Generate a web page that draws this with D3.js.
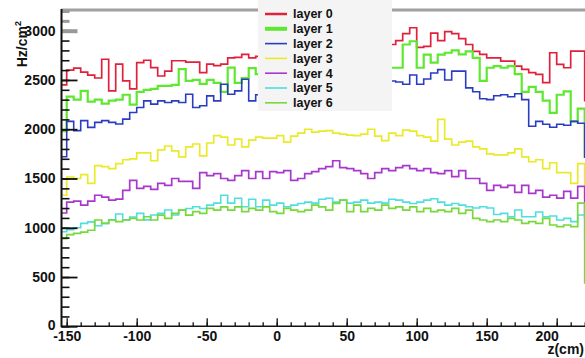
<!DOCTYPE html>
<html>
<head>
<meta charset="utf-8">
<script src="https://cdn.jsdelivr.net/npm/d3@7"></script>
<style>
  html, body { margin: 0; padding: 0; background: #fff; }
  svg { display: block; font-family: "Liberation Sans", Arial, Helvetica, sans-serif; font-weight: bold; }
</style>
</head>
<body>
<svg id="chart" width="585" height="358"></svg>
<script>
// Histogram binning along z (cm): 5 cm bins starting at -155 cm
const binLow = -155;
const binWidth = 5;

// Rate per bin (Hz/cm^2) for each detector layer
const layer0 = [2450,
  2600, 2620, 2580, 2550, 2520, 2710, 2390, 2660, 2490, 2410, 2675, 2700, 2625, 2540, 2590, 2695, 2695, 2680, 2680, 2575,
  2660, 2645, 2660, 2725, 2730, 2760, 2725, 2740, 2710, 2760, 2780, 2750, 2800, 2770, 2820, 2790, 2830, 2800, 2850, 2820,
  2860, 2830, 2880, 2850, 2870, 2900, 2860, 2900, 2970, 3030, 2830, 2840, 2975, 2900, 2990, 2970, 2920, 2860, 2790, 2760,
  2725, 2725, 2692, 2692, 2640, 2608, 2574, 2557, 2473, 2776, 2658, 2624, 2793, 2793,
  2290];
const layer1 = [1980,
  2330, 2300, 2390, 2280, 2300, 2260, 2290, 2300, 2350, 2250, 2380, 2400, 2410, 2440, 2440, 2450, 2610, 2490, 2500, 2460,
  2500, 2470, 2380, 2625, 2470, 2520, 2620, 2560, 2540, 2580, 2600, 2570, 2610, 2590, 2630, 2600, 2640, 2620, 2650, 2630,
  2660, 2640, 2680, 2650, 2670, 2640, 2624, 2624, 2860, 2893, 2624, 2758, 2675, 2758, 2776, 2800, 2760, 2790, 2725, 2490,
  2624, 2640, 2624, 2640, 2560, 2380, 2430, 2380, 2290, 2165, 2350, 2385, 2080, 2210,
  1720];
const layer2 = [1720,
  2080, 1986, 2087, 2019, 2070, 2087, 2070, 2053, 2103, 2170, 2221, 2288, 2255, 2288, 2271, 2288, 2271, 2355, 2221, 2238,
  2338, 2288, 2456, 2355, 2389, 2507, 2288, 2350, 2380, 2400, 2420, 2390, 2440, 2410, 2450, 2430, 2460, 2440, 2470, 2450,
  2480, 2460, 2490, 2470, 2480, 2470, 2490, 2480, 2456, 2550, 2456, 2510, 2570, 2605, 2500, 2590, 2590, 2420, 2380, 2310,
  2300, 2340, 2350, 2330, 2360, 2300, 2030, 2080, 2050, 2020, 2050, 2040, 2080, 2060,
  1715];
const layer3 = [1330,
  1515, 1500, 1540, 1450, 1630, 1620, 1600, 1650, 1690, 1700, 1760, 1760, 1680, 1790, 1830, 1780, 1720, 1820, 1850, 1730,
  1860, 1935, 1920, 1840, 1900, 1820, 1890, 1920, 1910, 1910, 1935, 1870, 1930, 1960, 2000, 1970, 1980, 1985, 1960, 1950,
  1940, 1935, 1950, 2000, 1930, 1885, 1960, 1935, 1990, 1980, 1935, 1920, 1880, 2100, 1900, 1840, 1870, 1880, 1820, 1800,
  1750, 1740, 1740, 1760, 1800, 1720, 1670, 1690, 1600, 1660, 1560, 1560, 1450, 1650,
  1300];
const layer4 = [1150,
  1260, 1270, 1230, 1270, 1330, 1310, 1280, 1290, 1380, 1480, 1400, 1420, 1390, 1450, 1430, 1500, 1470, 1470, 1400, 1560,
  1530, 1550, 1500, 1480, 1530, 1580, 1500, 1570, 1500, 1570, 1560, 1580, 1480, 1500, 1550, 1570, 1600, 1620, 1680, 1610,
  1600, 1580, 1550, 1500, 1560, 1600, 1580, 1610, 1630, 1600, 1580, 1600, 1560, 1550, 1580, 1520, 1580, 1500, 1500, 1450,
  1380, 1430, 1410, 1430, 1360, 1430, 1350, 1380, 1310, 1330, 1300, 1370, 1300, 1420,
  1100];
const layer5 = [960,
  980, 1000, 1045, 1060, 1020, 1045, 1080, 1140, 1080, 1110, 1146, 1080, 1130, 1146, 1180, 1130, 1180, 1195, 1213, 1195,
  1230, 1250, 1330, 1250, 1300, 1213, 1290, 1213, 1280, 1230, 1250, 1213, 1230, 1247, 1260, 1250, 1290, 1300, 1260, 1280,
  1250, 1260, 1280, 1250, 1260, 1250, 1290, 1280, 1260, 1247, 1260, 1280, 1295, 1260, 1230, 1247, 1230, 1213, 1200, 1213,
  1200, 1135, 1146, 1112, 1180, 1112, 1112, 1160, 1112, 1120, 1079, 1095, 1062, 1130,
  900];
const layer6 = [890,
  930, 944, 955, 975, 1079, 1045, 1079, 1062, 1079, 1096, 1079, 1112, 1079, 1129, 1096, 1146, 1179, 1129, 1163, 1146,
  1196, 1179, 1213, 1179, 1213, 1163, 1196, 1179, 1213, 1163, 1146, 1196, 1179, 1163, 1179, 1230, 1213, 1179, 1247, 1280,
  1163, 1230, 1163, 1196, 1179, 1230, 1196, 1213, 1179, 1213, 1163, 1196, 1163, 1179, 1163, 1196, 1146, 1179, 1096, 1079,
  1062, 1079, 1062, 1096, 1079, 1045, 1062, 1045, 1096, 1028, 1011, 1028, 1011, 1250,
  440];

const layerNames = ["layer 0", "layer 1", "layer 2", "layer 3", "layer 4", "layer 5", "layer 6"];
const layerColors = ["#e0203c", "#5ee830", "#2a3cc0", "#eaea2a", "#a838cc", "#50dede", "#78d83c"];
const layerWidths = [1.7, 2.2, 1.6, 1.7, 1.7, 1.6, 1.7];
const layerValues = [layer0, layer1, layer2, layer3, layer4, layer5, layer6];

const xMajorTicks = [-150, -100, -50, 0, 50, 100, 150, 200];
const yMajorTicks = [0, 500, 1000, 1500, 2000, 2500, 3000];

const svg = d3.select("#chart");

const frame = { left: 61.5, right: 585, top: 10, bottom: 326.3 };
const x = d3.scaleLinear().domain([-153, 226]).range([62.5, 593.1]);
const y = d3.scaleLinear().domain([0, 3210]).range([frame.bottom, frame.top]);

// clip histograms to the frame
svg.append("defs").append("clipPath").attr("id", "plotClip")
  .append("rect")
  .attr("x", frame.left).attr("y", frame.top)
  .attr("width", frame.right - frame.left + 10)
  .attr("height", frame.bottom - frame.top);

// top frame edge
svg.append("line")
  .attr("x1", frame.left).attr("x2", frame.right)
  .attr("y1", frame.top).attr("y2", frame.top)
  .attr("stroke", "#a0a0a0").attr("stroke-width", 3);

// histogram outlines (step lines over the bin edges)
const stepLine = d3.line()
  .x(d => x(d[0]))
  .y(d => y(d[1]))
  .curve(d3.curveStepAfter);

const histG = svg.append("g").attr("clip-path", "url(#plotClip)");
layerValues.forEach((vals, k) => {
  const pts = vals.map((v, i) => [binLow + i * binWidth, v]);
  pts.push([binLow + vals.length * binWidth, vals[vals.length - 1]]);
  histG.append("path")
    .attr("d", stepLine(pts))
    .attr("fill", "none")
    .attr("stroke", layerColors[k])
    .attr("stroke-width", layerWidths[k])
    .attr("stroke-linejoin", "miter");
});

// x axis: major ticks with labels, minor ticks every 10 cm
const xAxisG = svg.append("g").attr("transform", `translate(0,${frame.bottom})`);
xAxisG.call(d3.axisBottom(x).tickValues(d3.range(-150, 221, 10)).tickSize(-4).tickFormat(""));
xAxisG.call(g => g.select(".domain").remove());
const xMajorG = svg.append("g").attr("transform", `translate(0,${frame.bottom})`);
xMajorG.call(d3.axisBottom(x).tickValues(xMajorTicks).tickSize(-8).tickPadding(5).tickFormat(d3.format("d")));
xMajorG.call(g => g.select(".domain").remove());
xMajorG.selectAll("text")
  .attr("font-size", 14).attr("font-family", "Liberation Sans, Arial, sans-serif")
  .attr("font-weight", "bold").attr("fill", "#111")
  .text(d => d < 0 ? "-" + Math.abs(d) : d)
  .attr("dx", d => d === 200 ? -10 : 0);
svg.selectAll(".tick line").attr("stroke", "#111").attr("stroke-width", 1.3);

// y axis: major ticks with labels, minor ticks every 100
const yMinorG = svg.append("g").attr("transform", `translate(${frame.left},0)`);
yMinorG.call(d3.axisLeft(y).tickValues(d3.range(0, 3201, 100)).tickSize(-8).tickFormat(""));
yMinorG.call(g => g.select(".domain").remove());
const yMajorG = svg.append("g").attr("transform", `translate(${frame.left},0)`);
yMajorG.call(d3.axisLeft(y).tickValues(yMajorTicks).tickSize(-16).tickPadding(6).tickFormat(d3.format("d")));
yMajorG.call(g => g.select(".domain").remove());
yMajorG.selectAll("text")
  .attr("font-size", 14).attr("font-family", "Liberation Sans, Arial, sans-serif")
  .attr("font-weight", "bold").attr("fill", "#111")
  .attr("dy", d => d === 0 ? "0.2em" : "0.32em");
yMinorG.selectAll(".tick line").attr("stroke", "#111").attr("stroke-width", 1.6);
yMajorG.selectAll(".tick line").attr("stroke", "#111").attr("stroke-width", 1.8);
// ticks under the grey top edge are grey
yMinorG.selectAll(".tick").filter(d => d >= 3000).select("line").attr("stroke", "#999").attr("stroke-width", 3);
yMajorG.selectAll(".tick").filter(d => d >= 3000).select("line").attr("stroke", "#999").attr("stroke-width", 4);

// axis lines
svg.append("line")
  .attr("x1", frame.left).attr("x2", frame.left)
  .attr("y1", frame.top - 1).attr("y2", frame.bottom + 1)
  .attr("stroke", "#111").attr("stroke-width", 2);
svg.append("line")
  .attr("x1", frame.left).attr("x2", frame.right)
  .attr("y1", frame.bottom).attr("y2", frame.bottom)
  .attr("stroke", "#111").attr("stroke-width", 1.5);

// axis titles
svg.append("text")
  .attr("x", 584).attr("y", 354)
  .attr("text-anchor", "end")
  .attr("font-size", 14).attr("fill", "#111")
  .text("z(cm)");

const yTitle = svg.append("text")
  .attr("transform", "translate(27,21) rotate(-90)")
  .attr("text-anchor", "end")
  .attr("font-size", 14).attr("fill", "#111");
yTitle.append("tspan").text("Hz/cm");
yTitle.append("tspan").attr("font-size", 9).attr("dy", -6).text("2");

// legend
const legend = svg.append("g");
legend.append("rect")
  .attr("x", 258).attr("y", -2)
  .attr("width", 134).attr("height", 113)
  .attr("fill", "#f4f4f4");
const legendRows = legend.selectAll("g.row")
  .data(layerNames)
  .join("g")
  .attr("class", "row")
  .attr("transform", (d, i) => `translate(0,${14 + i * 14.8})`);
legendRows.append("line")
  .attr("x1", 265).attr("x2", 287)
  .attr("y1", 0).attr("y2", 0)
  .attr("stroke", (d, i) => layerColors[i])
  .attr("stroke-width", (d, i) => i === 1 ? 4 : (i === 0 ? 2.5 : 1.6));
legendRows.append("text")
  .attr("x", 293).attr("y", 0).attr("dy", "0.35em")
  .attr("font-size", 12.5).attr("fill", "#111")
  .text(d => d);
</script>
</body>
</html>
